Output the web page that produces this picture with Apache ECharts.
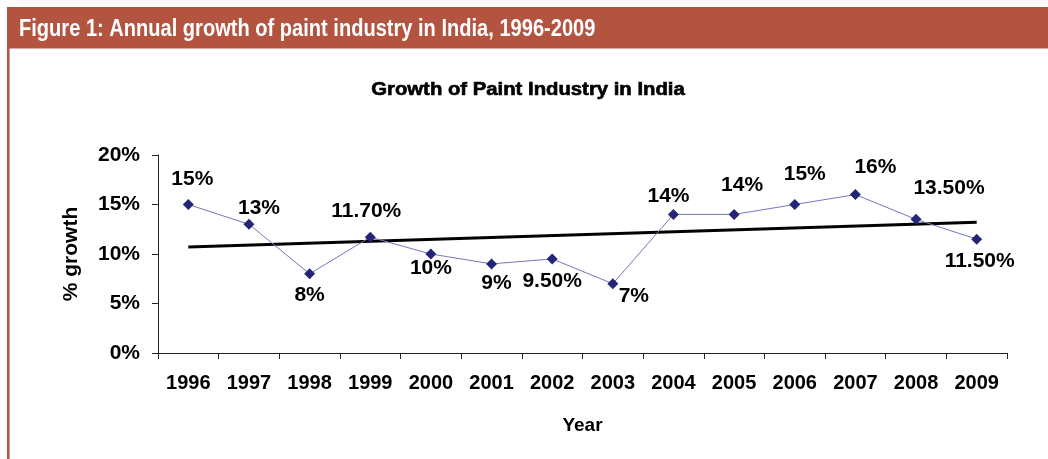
<!DOCTYPE html>
<html>
<head>
<meta charset="utf-8">
<script src="https://cdn.jsdelivr.net/npm/echarts@6/dist/echarts.min.js"></script>
<style>
html,body{margin:0;padding:0;background:#fff;}
#chart{width:1048px;height:459px;}
</style>
</head>
<body>
<div id="chart"></div>
<script>
// ---- data ----
var years = ['1996','1997','1998','1999','2000','2001','2002','2003','2004','2005','2006','2007','2008','2009'];
var growth = [15, 13, 8, 11.7, 10, 9, 9.5, 7, 14, 14, 15, 16, 13.5, 11.5];
var growthLabels = ['15%','13%','8%','11.70%','10%','9%','9.50%','7%','14%','14%','15%','16%','13.50%','11.50%'];
var trendYears = ['1996','2009'];
var trendValues = [10.7, 13.2];
var yTicks = [0, 5, 10, 15, 20];
var headerText = 'Figure 1: Annual growth of paint industry in India, 1996-2009';
var chartTitle = 'Growth of Paint Industry in India';

// ---- label placement (style) ----
var labelOffsets = [
  [4,-25],[10,-16],[0,21],[-4,-26],[0,14],[5,19],[0,22],
  [21,13],[-5,-18],[8,-29],[10,-30],[20,-27],[33,-31],[3,22]
];

var chart = echarts.init(document.getElementById('chart'), null, {renderer:'canvas'});

var seriesData = growth.map(function(v,i){
  return {
    value: v,
    label: {
      show: true,
      position: 'inside',
      offset: labelOffsets[i],
      formatter: growthLabels[i],
      align: 'center',
      verticalAlign: 'middle'
    }
  };
});

var trendData = trendYears.map(function(y,i){ return [y, trendValues[i]]; });

var labelFont = 'Liberation Sans, Arial, sans-serif';

var option = {
  animation: false,
  backgroundColor: '#ffffff',
  graphic: [
    { type:'rect', shape:{x:7, y:7, width:1041, height:41.5}, style:{fill:'#B35441'}, z:0 },
    { type:'rect', shape:{x:7, y:48, width:2.6, height:411}, style:{fill:'#B85545'}, z:0 },
    { type:'text', x:19, y:17, scaleX:0.836, scaleY:1,
      style:{ text: headerText, fill:'#ffffff', verticalAlign:'top', align:'left',
        font:'bold 24px "Liberation Sans", Arial, sans-serif' }, z:2 },
    { type:'text', x:528, y:81, scaleX:1.16, scaleY:1,
      style:{ text: chartTitle, fill:'#000000', verticalAlign:'top', align:'center',
        stroke:'#000000', lineWidth:0.6,
        font:'bold 17.5px "Liberation Sans", Arial, sans-serif' }, z:2 }
  ],
  grid: { left: 158, right: 41, top: 155, bottom: 106 },
  xAxis: {
    type: 'category',
    data: years,
    boundaryGap: true,
    name: 'Year',
    nameLocation: 'middle',
    nameGap: 63,
    nameTextStyle: { fontFamily: labelFont, fontWeight: 'bold', fontSize: 19, color: '#000' },
    axisLine: { lineStyle: { color: '#222', width: 1 } },
    axisTick: { show: true, interval: 0, alignWithLabel: false, inside: false, length: 6, lineStyle: { color: '#222' } },
    axisLabel: { interval: 0, margin: 20, fontFamily: labelFont, fontWeight: 'bold', fontSize: 20, color: '#000' },
    splitLine: { show: false }
  },
  yAxis: {
    type: 'value',
    min: yTicks[0], max: yTicks[yTicks.length-1], interval: yTicks[1]-yTicks[0],
    name: '% growth',
    nameLocation: 'middle',
    nameGap: 76,
    nameRotate: 90,
    nameTextStyle: { fontFamily: labelFont, fontWeight: 'bold', fontSize: 21, color: '#000' },
    axisLine: { show: true, lineStyle: { color: '#222', width: 1 } },
    axisTick: { show: true, length: 6, lineStyle: { color: '#222' } },
    axisLabel: { margin: 18, fontFamily: labelFont, fontWeight: 'bold', fontSize: 21, color: '#000', formatter: '{value}%' },
    splitLine: { show: false }
  },
  series: [
    {
      name: 'Trend',
      type: 'line',
      data: trendData,
      symbol: 'none',
      lineStyle: { color: '#000', width: 3 },
      z: 2,
      silent: true
    },
    {
      name: 'Growth',
      type: 'line',
      data: seriesData,
      symbol: 'diamond',
      symbolSize: 11,
      itemStyle: { color: '#232677' },
      lineStyle: { color: '#7777BB', width: 1 },
      label: { color: '#000', fontFamily: labelFont, fontWeight: 'bold', fontSize: 21 },
      z: 3
    }
  ]
};
chart.setOption(option);
</script>
</body>
</html>
